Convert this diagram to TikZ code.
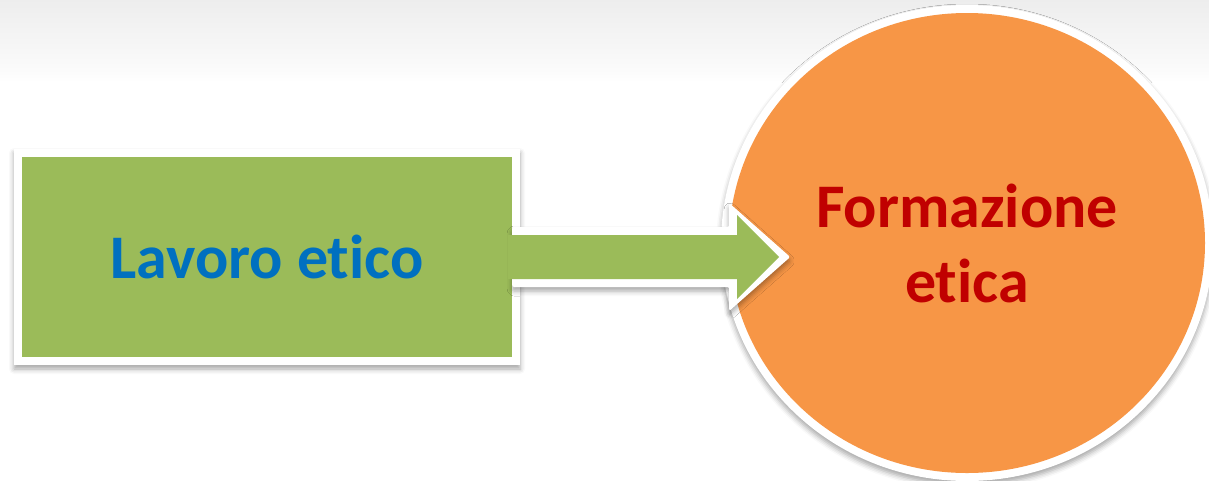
\documentclass[tikz,border=0pt]{standalone}
\usepackage{fontspec}
\setmainfont{Carlito}[Ligatures=NoCommon]
\usepackage{xcolor}
\usetikzlibrary{shapes.geometric,shadows.blur}

\definecolor{verde}{HTML}{9BBB59}
\definecolor{arancio}{HTML}{F79646}
\definecolor{blu}{HTML}{0070C0}
\definecolor{rosso}{HTML}{C00000}

\tikzset{
  ombra/.style={blur shadow={shadow xshift=0pt, shadow yshift=-4pt, shadow blur radius=5pt, shadow opacity=35}},
  testo/.style={font=\bfseries\fontsize{62}{75}\selectfont, align=center}
}

\begin{document}
\begin{tikzpicture}[x=1pt, y=-1pt]
                \useasboundingbox (0,0) rectangle (1209,480);

                %% sfondo
                \shade[top color=black!7, bottom color=black!2] (0,0) rectangle (1209,66);
                \shade[top color=black!2, bottom color=white] (0,66) rectangle (1209,82);

                %% cerchio
                \node[ellipse, ombra, fill=white, minimum width=492pt, minimum height=476pt, inner sep=0pt,
                      testo, text=rosso,
                      path picture={\fill[arancio] (path picture bounding box.center) ellipse [x radius=238pt, y radius=230pt];}]
                      (formazione) at (967,243) {Formazione\\etica};

                %% rettangolo
                \node[ombra, fill=white, minimum width=506pt, minimum height=216pt, inner sep=0pt,
                      testo, text=blu,
                      path picture={\fill[verde] ([shift={(8pt,-8pt)}]path picture bounding box.north west)
                                    rectangle ([shift={(-8pt,8pt)}]path picture bounding box.south east);}]
                      (lavoro) at (267,257) {Lavoro etico};

                %% freccia
                \path[ombra, fill=white, rounded corners=2pt] (lavoro.east) ++(-8,-30) -- ++(217,0) -- ++(0,-24)
                      -- ++(61,54) -- ++(-61,54) -- ++(0,-24) -- ++(-217,0) -- cycle;
                \fill[verde] (lavoro.east) ++(-12,-22) -- ++(229,0) -- ++(0,-20)
                      -- ++(42,42) -- ++(-42,42) -- ++(0,-20) -- ++(-229,0) -- cycle;

            \end{tikzpicture}
\end{document}
